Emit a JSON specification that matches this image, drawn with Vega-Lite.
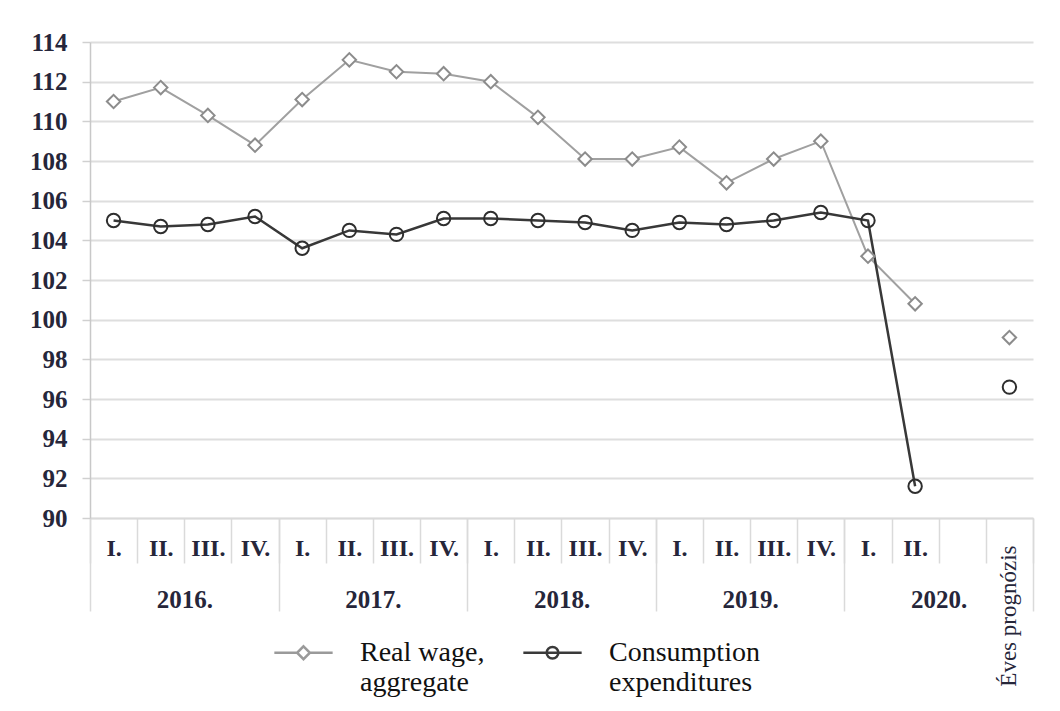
{
  "$schema": "https://vega.github.io/schema/vega-lite/v6.json",
  "width": 943,
  "height": 476,
  "autosize": {"type": "none"},
  "padding": {"left": 90, "top": 42, "right": 27, "bottom": 193},
  "background": "white",
  "config": {
    "view": {"stroke": null},
    "font": "Liberation Serif"
  },
  "datasets": {
    "series": [
      {"slot": "2016-I", "series": "Real wage, aggregate", "value": 111.0},
      {"slot": "2016-II", "series": "Real wage, aggregate", "value": 111.7},
      {"slot": "2016-III", "series": "Real wage, aggregate", "value": 110.3},
      {"slot": "2016-IV", "series": "Real wage, aggregate", "value": 108.8},
      {"slot": "2017-I", "series": "Real wage, aggregate", "value": 111.1},
      {"slot": "2017-II", "series": "Real wage, aggregate", "value": 113.1},
      {"slot": "2017-III", "series": "Real wage, aggregate", "value": 112.5},
      {"slot": "2017-IV", "series": "Real wage, aggregate", "value": 112.4},
      {"slot": "2018-I", "series": "Real wage, aggregate", "value": 112.0},
      {"slot": "2018-II", "series": "Real wage, aggregate", "value": 110.2},
      {"slot": "2018-III", "series": "Real wage, aggregate", "value": 108.1},
      {"slot": "2018-IV", "series": "Real wage, aggregate", "value": 108.1},
      {"slot": "2019-I", "series": "Real wage, aggregate", "value": 108.7},
      {"slot": "2019-II", "series": "Real wage, aggregate", "value": 106.9},
      {"slot": "2019-III", "series": "Real wage, aggregate", "value": 108.1},
      {"slot": "2019-IV", "series": "Real wage, aggregate", "value": 109.0},
      {"slot": "2020-I", "series": "Real wage, aggregate", "value": 103.2},
      {"slot": "2020-II", "series": "Real wage, aggregate", "value": 100.8},
      {"slot": "E", "series": "Real wage, aggregate", "value": 99.1},
      {"slot": "2016-I", "series": "Consumption expenditures", "value": 105.0},
      {"slot": "2016-II", "series": "Consumption expenditures", "value": 104.7},
      {"slot": "2016-III", "series": "Consumption expenditures", "value": 104.8},
      {"slot": "2016-IV", "series": "Consumption expenditures", "value": 105.2},
      {"slot": "2017-I", "series": "Consumption expenditures", "value": 103.6},
      {"slot": "2017-II", "series": "Consumption expenditures", "value": 104.5},
      {"slot": "2017-III", "series": "Consumption expenditures", "value": 104.3},
      {"slot": "2017-IV", "series": "Consumption expenditures", "value": 105.1},
      {"slot": "2018-I", "series": "Consumption expenditures", "value": 105.1},
      {"slot": "2018-II", "series": "Consumption expenditures", "value": 105.0},
      {"slot": "2018-III", "series": "Consumption expenditures", "value": 104.9},
      {"slot": "2018-IV", "series": "Consumption expenditures", "value": 104.5},
      {"slot": "2019-I", "series": "Consumption expenditures", "value": 104.9},
      {"slot": "2019-II", "series": "Consumption expenditures", "value": 104.8},
      {"slot": "2019-III", "series": "Consumption expenditures", "value": 105.0},
      {"slot": "2019-IV", "series": "Consumption expenditures", "value": 105.4},
      {"slot": "2020-I", "series": "Consumption expenditures", "value": 105.0},
      {"slot": "2020-II", "series": "Consumption expenditures", "value": 91.6},
      {"slot": "E", "series": "Consumption expenditures", "value": 96.6}
    ],
    "years": [
      {"year": "2016.", "series": "Real wage, aggregate"},
      {"year": "2017.", "series": "Consumption expenditures"}
    ],
    "forecast": [{"slot": "E"}]
  },
  "resolve": {
    "scale": {"x": "independent", "color": "independent", "shape": "independent"},
    "axis": {"x": "independent"},
    "legend": {"color": "independent", "shape": "independent"}
  },
  "layer": [
    {
      "data": {"name": "years"},
      "mark": {"type": "point", "opacity": 0, "filled": false},
      "encoding": {
        "x": {
          "field": "year", "type": "nominal",
          "scale": {"type": "band", "domain": ["2016.", "2017.", "2018.", "2019.", "2020."], "paddingInner": 0, "paddingOuter": 0},
          "axis": {
            "orient": "bottom", "title": null, "domain": false,
            "tickBand": "extent", "tickSize": 93, "tickColor": "#dadada", "tickWidth": 1.5,
            "labelPadding": -24, "labelAngle": 0, "labelFontSize": 25, "labelColor": "#26263a",
            "labelFont": "Liberation Serif", "labelFontWeight": "bold", "labelBaseline": "top"
          }
        },
        "color": {
          "field": "series", "type": "nominal",
          "scale": {"domain": ["Real wage, aggregate", "Consumption expenditures"], "range": ["#9a9a9a", "#3a3a3a"]},
          "legend": {
            "title": null, "orient": "none", "direction": "horizontal",
            "legendX": 183, "legendY": 580,
            "symbolSize": 3400, "symbolStrokeWidth": 2.5, "symbolOpacity": 1, "symbolFillColor": "white",
            "labelOffset": 26, "columnPadding": 33,
            "labelFont": "Liberation Serif", "labelFontSize": 28, "labelColor": "#111111", "labelLimit": 0,
            "labelExpr": "datum.value == 'Real wage, aggregate' ? ['Real wage,', 'aggregate'] : ['Consumption', 'expenditures']"
          }
        },
        "shape": {
          "field": "series", "type": "nominal",
          "scale": {"domain": ["Real wage, aggregate", "Consumption expenditures"],
            "range": ["M-1,0L-0.22,0M0.22,0L1,0M0,-0.22L0.22,0L0,0.22L-0.22,0Z", "M-1,0L1,0M-0.2,0A0.2,0.2,0,1,1,0.2,0A0.2,0.2,0,1,1,-0.2,0Z"]}
        }
      }
    },
    {
      "data": {"name": "forecast"},
      "mark": {"type": "point", "opacity": 0},
      "encoding": {
        "x": {
          "field": "slot", "type": "nominal",
          "scale": {"type": "band", "paddingInner": 0, "paddingOuter": 0,
            "domain": ["2016-I","2016-II","2016-III","2016-IV","2017-I","2017-II","2017-III","2017-IV","2018-I","2018-II","2018-III","2018-IV","2019-I","2019-II","2019-III","2019-IV","2020-I","2020-II","gap","E"]},
          "axis": {
            "orient": "bottom", "title": null, "domain": false, "ticks": false, "grid": false,
            "labelExpr": "datum.value == 'E' ? 'Éves prognózis' : ''",
            "labelAngle": 270, "labelAlign": "right", "labelBaseline": "middle",
            "labelPadding": 27, "labelFontSize": 23, "labelColor": "#26263a",
            "labelFont": "Liberation Serif", "labelOverlap": false, "labelBound": false
          }
        }
      }
    },
    {
      "data": {"name": "series"},
      "layer": [
        {
          "mark": {"type": "point", "opacity": 0},
          "encoding": {
            "x": {
              "field": "slot", "type": "nominal",
              "scale": {"type": "band", "paddingInner": 0, "paddingOuter": 0,
                "domain": ["2016-I","2016-II","2016-III","2016-IV","2017-I","2017-II","2017-III","2017-IV","2018-I","2018-II","2018-III","2018-IV","2019-I","2019-II","2019-III","2019-IV","2020-I","2020-II","gap","E"]},
              "axis": {
                "orient": "bottom", "title": null,
                "domainColor": "#dadada", "domainWidth": 1.5,
                "tickBand": "extent", "tickSize": 45, "tickColor": "#dadada", "tickWidth": 1.5,
                "labelPadding": -27, "labelAngle": 0, "labelColor": "#26263a",
                "labelFont": "Liberation Serif", "labelFontWeight": "bold", "labelFontSize": 24,
                "labelBaseline": "top",
                "labelOverlap": false, "labelBound": false, "labelFlush": false,
                "labelExpr": "datum.value == null ? '' : (datum.value == 'E' || datum.value == 'gap') ? '' : split(datum.value, '-')[1] + '.'"
              }
            },
            "y": {
              "field": "value", "type": "quantitative",
              "scale": {"domain": [90, 114], "nice": false, "zero": false},
              "axis": {
                "title": null, "values": [90,92,94,96,98,100,102,104,106,108,110,112,114], "tickCount": 13,
                "labelOverlap": false,
                "domainColor": "#c8c8c8", "domainWidth": 1.5,
                "tickColor": "#d0d0d0", "tickSize": 8, "tickWidth": 1.5,
                "gridColor": "#dedede", "gridWidth": 2,
                "labelPadding": 15, "labelFontSize": 25, "labelColor": "#26263a",
                "labelFont": "Liberation Serif", "labelFontWeight": "bold"
              }
            }
          }
        },
        {
          "transform": [{"filter": "datum.slot != 'E' && datum.series == 'Real wage, aggregate'"}],
          "mark": {"type": "line", "color": "#a0a0a0", "strokeWidth": 2},
          "encoding": {
            "x": {"field": "slot", "type": "nominal"},
            "y": {"field": "value", "type": "quantitative"}
          }
        },
        {
          "transform": [{"filter": "datum.slot != 'E' && datum.series == 'Consumption expenditures'"}],
          "mark": {"type": "line", "color": "#383838", "strokeWidth": 2.5},
          "encoding": {
            "x": {"field": "slot", "type": "nominal"},
            "y": {"field": "value", "type": "quantitative"}
          }
        },
        {
          "transform": [{"filter": "datum.series == 'Real wage, aggregate'"}],
          "mark": {"type": "point", "shape": "diamond", "filled": true, "color": "white", "opacity": 1, "size": 210},
          "encoding": {
            "x": {"field": "slot", "type": "nominal"},
            "y": {"field": "value", "type": "quantitative"}
          }
        },
        {
          "mark": {"type": "point", "filled": false, "strokeWidth": 2, "opacity": 1, "size": 180},
          "encoding": {
            "x": {"field": "slot", "type": "nominal"},
            "y": {"field": "value", "type": "quantitative"},
            "color": {
              "field": "series", "type": "nominal",
              "scale": {"domain": ["Real wage, aggregate", "Consumption expenditures"], "range": ["#8c8c8c", "#2e2e2e"]},
              "legend": null
            },
            "shape": {
              "field": "series", "type": "nominal",
              "scale": {"domain": ["Real wage, aggregate", "Consumption expenditures"], "range": ["diamond", "circle"]},
              "legend": null
            }
          }
        }
      ]
    }
  ]
}
